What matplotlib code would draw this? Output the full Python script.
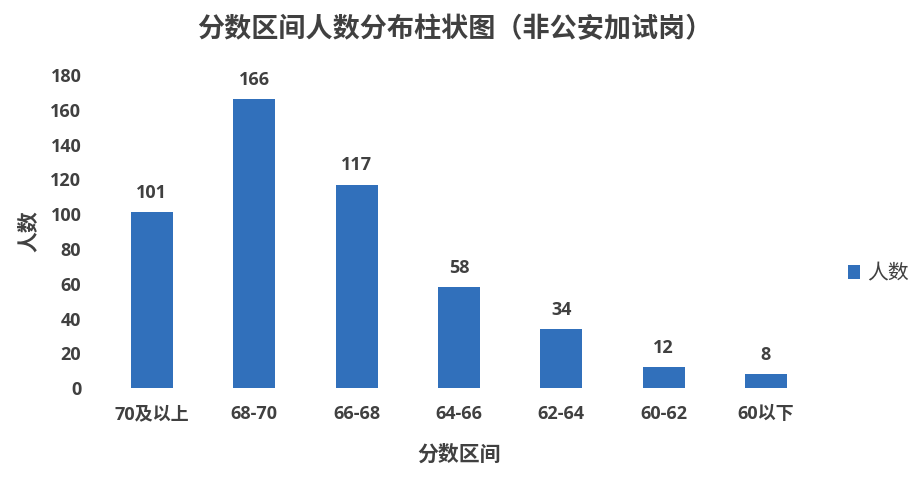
import matplotlib
matplotlib.use("Agg")
import matplotlib.pyplot as plt

plt.rcParams['font.family'] = ['Open Sans', 'Noto Sans CJK SC', 'DejaVu Sans']

categories = ["70及以上", "68-70", "66-68", "64-66", "62-64", "60-62", "60以下"]
values = [101, 166, 117, 58, 34, 12, 8]
yticks = [0, 20, 40, 60, 80, 100, 120, 140, 160, 180]

bar_color = "#3170BB"
text_color = "#404040"

fig = plt.figure(figsize=(9.16, 4.84), dpi=100)
ax = fig.add_axes([0.110, 0.198, 0.782, 0.647])

x = list(range(len(categories)))
bars = ax.bar(x, values, width=0.41, color=bar_color, label="人数", zorder=2)

for xi, v in zip(x, values):
    ax.text(xi, v + 6, str(v), ha="center", va="bottom", fontsize=13,
            fontweight="bold", color=text_color)

ax.set_xlim(-0.5, len(categories) - 0.5)
ax.set_ylim(0, 180)
ax.set_yticks(yticks)
ax.set_yticklabels([str(t) for t in yticks])
ax.set_xticks(x)
ax.set_xticklabels(categories)

for lab in ax.get_xticklabels() + ax.get_yticklabels():
    lab.set_fontsize(13)
    lab.set_fontweight("bold")
    lab.set_color(text_color)

ax.tick_params(axis="both", length=0)
ax.tick_params(axis="y", pad=14)
ax.tick_params(axis="x", pad=12)
for s in ax.spines.values():
    s.set_visible(False)

ax.set_xlabel("分数区间", fontsize=15, fontweight="bold", color=text_color, labelpad=16)
ax.set_ylabel("人数", fontsize=15, fontweight="bold", color=text_color, labelpad=8)

fig.suptitle("分数区间人数分布柱状图（非公安加试岗）", x=0.497, y=0.966,
             fontsize=19.5, fontweight="bold", color=text_color)

leg = fig.legend(handles=[bars], labels=["人数"], loc="center left",
                 bbox_to_anchor=(0.905, 0.434), frameon=False, fontsize=15,
                 handlelength=0.6, handleheight=0.6, handletextpad=0.35)
for t in leg.get_texts():
    t.set_color(text_color)

fig.savefig("out.png", dpi=100)
